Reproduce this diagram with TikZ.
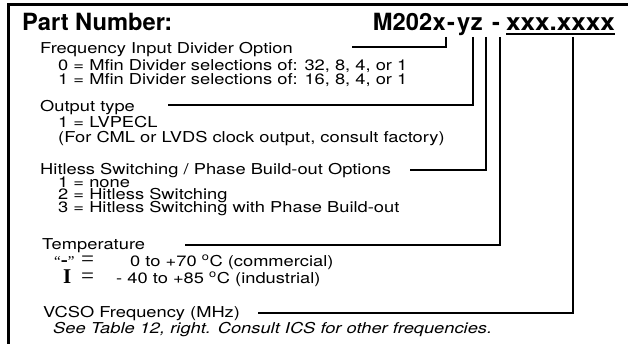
\documentclass[tikz,border=0pt]{standalone}
\usepackage{fontspec}
\setmainfont{TeX Gyre Heros}
\newfontfamily\tmsfont{Liberation Serif}
\usetikzlibrary{calc}

\begin{document}
\begin{tikzpicture}[x=1pt,y=-1pt,
	txt/.style={anchor=base west, inner sep=0pt, xscale=1.22,
		font=\fontsize{15}{15}\selectfont},
	pn/.style={anchor=base west, inner xsep=0pt, inner ysep=6pt, text depth=0pt,
		font=\fontsize{23.7}{24}\selectfont\bfseries},
	ser/.style={anchor=base west, inner sep=0pt, text height=11pt, text depth=0pt,
		font=\tmsfont\fontsize{21}{21}\selectfont},
	conn/.style={line width=2pt},
]

% parameters %{{{2

	\def\partbase{30.7}

% frame %{{{2

	\useasboundingbox (0,0) rectangle (628,343);
	\draw[line width=3pt] (630,4) -- (8,4) -- (8,345);

% part number %{{{2

	\node[pn] (pnlabel) at (22,\partbase) {Part Number:};

	\node[pn, anchor=base east] (pnx) at (446,\partbase) {x};
	\node[pn, anchor=base east] (pnm) at (pnx.base west) {M202};
	\node[pn] (pnda) at (447,\partbase) {-};
	\node[pn] (pny) at (457,\partbase) {y};
	\node[pn] (pnz) at (pny.base east) {z};
	\node[pn, anchor=base] (pndb) at (496,\partbase) {-};
	\node[pn, xscale=1.1] (pnf) at (506,\partbase) {xxx.xxxx};

	\draw[line width=1.6pt] ([yshift=-3pt]pnf.base west) -- ([yshift=-3pt]pnf.base east);

% options %{{{2

	\node[txt] (fq) at (40,53) {Frequency Input Divider Option};
	\node[txt] (fqa) at (58,70) {0 = Mfin Divider selections of: 32, 8, 4, or 1};
	\node[txt] (fqb) at (58,84) {1 = Mfin Divider selections of: 16, 8, 4, or 1};

	\node[txt] (out) at (40,111) {Output type};
	\node[txt] (outa) at (58,127) {1 = LVPECL};
	\node[txt] (outb) at (58,142) {(For CML or LVDS clock output, consult factory)};

	\node[txt] (hit) at (40,174) {Hitless Switching / Phase Build-out Options};
	\node[txt] (hita) at (58,187) {1 = none};
	\node[txt] (hitb) at (58,199.5) {2 = Hitless Switching};
	\node[txt] (hitc) at (58,212) {3 = Hitless Switching with Phase Build-out};

	\node[txt] (tmp) at (42,249) {Temperature};
	\node[ser] (tmpq) at (54,266) {\fontsize{15}{15}\selectfont“\textbf{\fontsize{21}{21}\selectfont -}”};
	\node[ser] (tmpi) at (63,283) {\textbf{I}};
	\node[ser, font=\tmsfont\fontsize{23}{23}\selectfont] (tmpeqa) at (81,266) {=};
	\node[ser, font=\tmsfont\fontsize{23}{23}\selectfont] (tmpeqb) at (81,283) {=};
	\node[txt] (tmpa) at (130,266) {0 to +70 \textsuperscript{o}C (commercial)};
	\node[txt] (tmpb) at (116,283) {- 40 to +85 \textsuperscript{o}C (industrial)};

	\node[txt] (vcs) at (43,317) {VCSO Frequency (MHz)};
	\node[txt] (vcsa) at (53,333) {\itshape See Table 12, right. Consult ICS for other frequencies.};

% connectors %{{{2

	\coordinate (fqend) at (352,46.7);
	\coordinate (outend) at (168,105);
	\coordinate (hitend) at (410,170);
	\coordinate (tmpend) at (185,245);
	\coordinate (vcsend) at (258,313);

	\draw[conn] (pnx.south east) |- (fqend);
	\draw[conn] ([xshift=2pt]pny.south east) |- (outend);
	\draw[conn] ([xshift=3pt]pnz.south east) |- (hitend);
	\draw[conn] ([xshift=4pt]pndb.south) |- (tmpend);
	\draw[conn] ([xshift=12pt]pnf.south) |- (vcsend);

\end{tikzpicture}
\end{document}
